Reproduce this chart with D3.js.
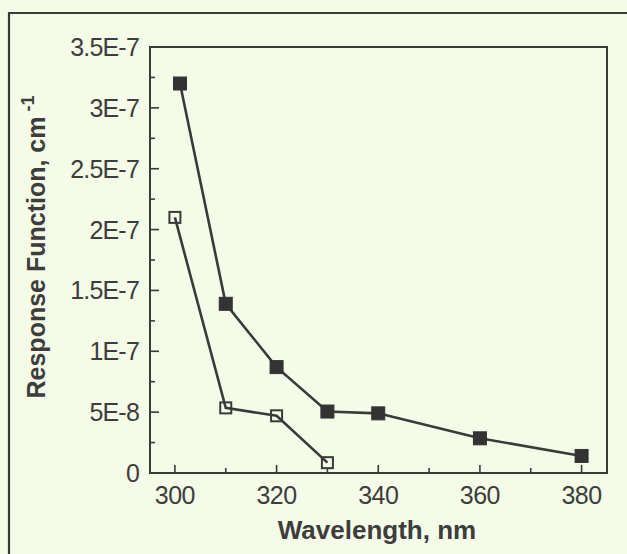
<html>
<head>
<script src="https://cdn.jsdelivr.net/npm/d3@7"></script>
<style>
  body { margin: 0; background: #f4fbe7; }
  svg text { font-family: "Liberation Sans", Arial, sans-serif; fill: #3d3d3d; }
</style>
</head>
<body>
<div id="chart"></div>
<script>
  // wavelengths (nm) and response values (cm^-1)
  const filledX = [301, 310, 320, 330, 340, 360, 380];
  const filledY = [3.2e-7, 1.39e-7, 8.7e-8, 5.05e-8, 4.9e-8, 2.85e-8, 1.4e-8];
  const openX = [300, 310, 320, 330];
  const openY = [2.1e-7, 5.35e-8, 4.7e-8, 8.5e-9];
  const xTicks = [300, 320, 340, 360, 380];
  const yTicks = [0, 5e-8, 1e-7, 1.5e-7, 2e-7, 2.5e-7, 3e-7, 3.5e-7];
  const yTickLabels = ["0", "5E-8", "1E-7", "1.5E-7", "2E-7", "2.5E-7", "3E-7", "3.5E-7"];

  width = 627
  height = 554
  ink = "#3a3a3a"

  const svg = d3.select("#chart").append("svg")
    .attr("width", width)
    .attr("height", height);

  // outer frame of the scanned figure
  svg.append("path")
    .attr("d", "M9,560 L9,13 L640,13")
    .attr("fill", "none")
    .attr("stroke", ink)
    .attr("stroke-width", 2.2);

  const x = d3.scaleLinear().domain([295.1, 385]).range([150, 607]);
  const y = d3.scaleLinear().domain([0, 3.5e-7]).range([473, 47]);

  // plot box
  svg.append("rect")
    .attr("x", x.range()[0]).attr("y", y.range()[1])
    .attr("width", x.range()[1] - x.range()[0])
    .attr("height", y.range()[0] - y.range()[1])
    .attr("fill", "none")
    .attr("stroke", ink)
    .attr("stroke-width", 2);

  // x axis ticks (inward), minor every 10
  const xMinor = d3.range(310, 380, 20);
  const xa = svg.append("g").attr("stroke", ink).attr("stroke-width", 1.6);
  xa.selectAll("line.maj").data(xTicks).join("line")
    .attr("x1", d => x(d)).attr("x2", d => x(d))
    .attr("y1", y(0)).attr("y2", y(0) - 8);
  xa.selectAll("line.min").data(xMinor).join("line")
    .attr("x1", d => x(d)).attr("x2", d => x(d))
    .attr("y1", y(0)).attr("y2", y(0) - 5);
  svg.append("g").selectAll("text").data(xTicks).join("text")
    .attr("x", d => x(d)).attr("y", 504)
    .attr("text-anchor", "middle")
    .attr("font-size", 25)
    .attr("letter-spacing", -0.5)
    .text(d => d);

  // y axis ticks (inward), minor halfway
  const yMinor = yTicks.slice(0, -1).map(d => d + 2.5e-8);
  const ya = svg.append("g").attr("stroke", ink).attr("stroke-width", 1.6);
  ya.selectAll("line.maj").data(yTicks).join("line")
    .attr("x1", x.range()[0]).attr("x2", x.range()[0] + 9)
    .attr("y1", d => y(d)).attr("y2", d => y(d));
  ya.selectAll("line.min").data(yMinor).join("line")
    .attr("x1", x.range()[0]).attr("x2", x.range()[0] + 5)
    .attr("y1", d => y(d)).attr("y2", d => y(d));
  svg.append("g").selectAll("text").data(yTicks).join("text")
    .attr("x", 139).attr("y", d => y(d))
    .attr("dy", "0.36em")
    .attr("text-anchor", "end")
    .attr("font-size", 25)
    .attr("letter-spacing", -0.8)
    .text((d, i) => yTickLabels[i]);

  // axis titles
  svg.append("text")
    .attr("x", 377).attr("y", 539)
    .attr("text-anchor", "middle")
    .attr("font-size", 26)
    .attr("font-weight", "bold")
    .text("Wavelength, nm");

  const yl = svg.append("text")
    .attr("transform", "translate(45,247) rotate(-90)")
    .attr("text-anchor", "middle")
    .attr("font-size", 25)
    .attr("font-weight", "bold");
  yl.append("tspan").text("Response Function, cm");
  yl.append("tspan").attr("dy", -11).attr("font-size", 18).text(" -1");

  // series
  const line = d3.line().x(d => x(d[0])).y(d => y(d[1]));
  const filled = filledX.map((d, i) => [d, filledY[i]]);
  const open = openX.map((d, i) => [d, openY[i]]);

  svg.append("path").datum(filled)
    .attr("d", line).attr("fill", "none")
    .attr("stroke", ink).attr("stroke-width", 2.6);
  svg.append("path").datum(open)
    .attr("d", line).attr("fill", "none")
    .attr("stroke", ink).attr("stroke-width", 2.6);

  const s = 13;
  svg.append("g").selectAll("rect").data(filled).join("rect")
    .attr("x", d => x(d[0]) - s / 2).attr("y", d => y(d[1]) - s / 2)
    .attr("width", s).attr("height", s)
    .attr("fill", "#333").attr("stroke", "#333").attr("stroke-width", 1);
  svg.append("g").selectAll("rect").data(open).join("rect")
    .attr("x", d => x(d[0]) - s / 2 + 1).attr("y", d => y(d[1]) - s / 2 + 1)
    .attr("width", s - 2).attr("height", s - 2)
    .attr("fill", "none").attr("stroke", ink).attr("stroke-width", 2);
</script>
</body>
</html>
